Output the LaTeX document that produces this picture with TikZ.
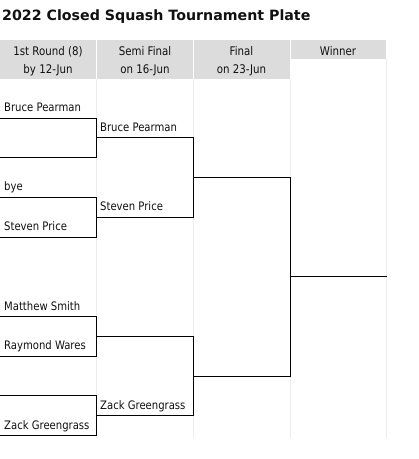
\documentclass[tikz,border=0pt]{standalone}
\usepackage{fontspec}
\setmainfont{DejaVu Sans}[FakeStretch=0.86]
\newfontfamily\titlefont{DejaVu Sans}
\definecolor{hdrgray}{HTML}{DCDCDC}
\definecolor{sepgray}{HTML}{ECECEC}
\definecolor{txt}{HTML}{111111}
\tikzset{
  hdrcell/.style={fill=hdrgray},
  sepline/.style={draw=sepgray, line width=1pt},
  bracket/.style={draw=black, line width=1pt},
  player/.style={anchor=base west, inner sep=0pt, text=txt, font=\fontsize{11.7}{13}\selectfont},
  hdrtext/.style={anchor=base, inner sep=0pt, text=txt, font=\fontsize{11.9}{13}\selectfont},
}
\begin{document}
\begin{tikzpicture}[x=1pt,y=-1pt]
\useasboundingbox (0,0) rectangle (419,459);
\fill[white] (0,0) rectangle (419,459);
% title
\node[anchor=base west, inner sep=0pt, text=txt, font=\titlefont\bfseries\fontsize{14.2}{16}\selectfont] (title) at (2,20.7) {2022 Closed Squash Tournament Plate};
% header cells
\fill[hdrcell] (0,40) rectangle (96,79);
\fill[hdrcell] (97,40) rectangle (193,79);
\fill[hdrcell] (194,40) rectangle (289.5,79);
\fill[hdrcell] (290.5,40) rectangle (386,59);
% separators
\draw[sepline] (96.5,79) -- (96.5,438);
\draw[sepline] (193.5,79) -- (193.5,438);
\draw[sepline] (290,79) -- (290,438);
\draw[sepline] (386.7,59) -- (386.7,438);
% header text
\node[hdrtext] (h1a) at (48,55) {1st Round (8)};
\node[hdrtext] (h1b) at (48,73.5) {by 12-Jun};
\node[hdrtext] (h2a) at (145,55) {Semi Final};
\node[hdrtext] (h2b) at (145,73.5) {on 16-Jun};
\node[hdrtext] (h3a) at (241.5,55) {Final};
\node[hdrtext] (h3b) at (241.5,73.5) {on 23-Jun};
\node[hdrtext] (h4a) at (338,55) {Winner};
% round 1 slot coordinates
\foreach \k/\y in {0/118,1/157.7,2/197.4,3/237.1,5/316.5,6/356.2,7/395.9,8/435.6} {
  \coordinate (a\k) at (0,\y);
  \coordinate (b\k) at (96.5,\y);
}
% round 2
\coordinate (s1) at (96.5,137.85);  \coordinate (s1e) at (193.5,137.85);
\coordinate (s2) at (96.5,217.25);  \coordinate (s2e) at (193.5,217.25);
\coordinate (s3) at (96.5,336.35);  \coordinate (s3e) at (193.5,336.35);
\coordinate (s4) at (96.5,415.75);  \coordinate (s4e) at (193.5,415.75);
% final
\coordinate (f1) at (193.5,177.55); \coordinate (f1e) at (290,177.55);
\coordinate (f2) at (193.5,376.05); \coordinate (f2e) at (290,376.05);
% winner
\coordinate (w) at (290,276.8); \coordinate (we) at (386.7,276.8);
% bracket lines
\draw[bracket] (a0) -- (b0) -- (b1) -- (a1);
\draw[bracket] (a2) -- (b2) -- (b3) -- (a3);
\draw[bracket] (a5) -- (b5) -- (b6) -- (a6);
\draw[bracket] (a7) -- (b7) -- (b8) -- (a8);
\draw[bracket] (s1) -- (s1e) -- (s2e) -- (s2);
\draw[bracket] (s3) -- (s3e) -- (s4e) -- (s4);
\draw[bracket] (f1) -- (f1e) -- (f2e) -- (f2);
\draw[bracket] (w) -- (we);
% player names round 1
\node[player] (p1) at (4,111.5) {Bruce Pearman};
\node[player] (p3) at (4,190.9) {bye};
\node[player] (p4) at (4,230.6) {Steven Price};
\node[player] (p5) at (4,310) {Matthew Smith};
\node[player] (p6) at (4,349.7) {Raymond Wares};
\node[player] (p8) at (4,429.1) {Zack Greengrass};
% round 2 names
\node[player] (q1) at (100,131.35) {Bruce Pearman};
\node[player] (q2) at (100,210.75) {Steven Price};
\node[player] (q4) at (100,409.25) {Zack Greengrass};
\end{tikzpicture}
\end{document}
